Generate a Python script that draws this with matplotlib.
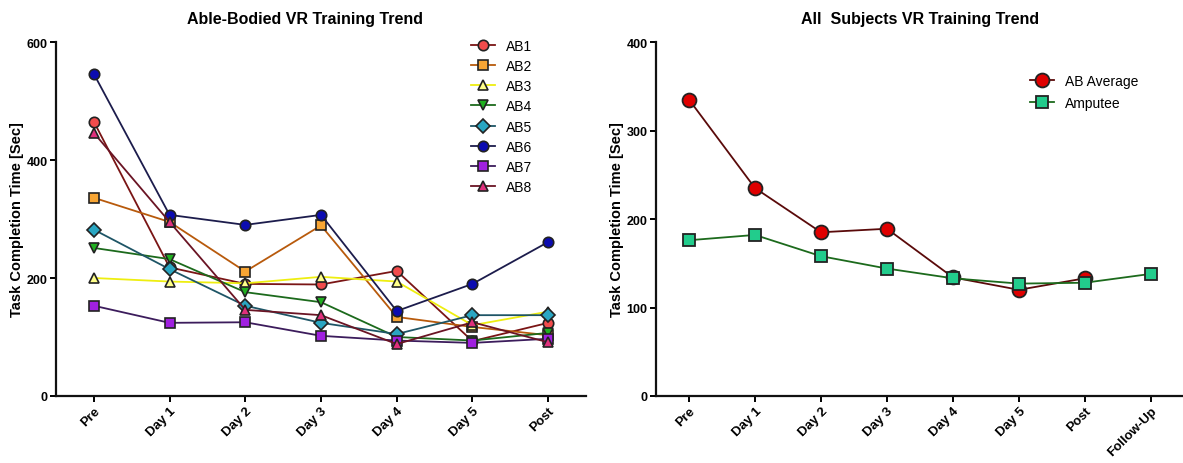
import matplotlib
matplotlib.use("Agg")
import matplotlib.pyplot as plt

plt.rcParams['font.family'] = ['Liberation Sans', 'DejaVu Sans']

days_ab = ["Pre", "Day 1", "Day 2", "Day 3", "Day 4", "Day 5", "Post"]
days_all = ["Pre", "Day 1", "Day 2", "Day 3", "Day 4", "Day 5", "Post", "Follow-Up"]

ab1 = [465, 218, 190, 189, 212, 93, 124]
ab2 = [336, 295, 211, 289, 134, 117, 103]
ab3 = [200, 194, 191, 202, 194, 120, 143]
ab4 = [251, 232, 176, 159, 100, 94, 107]
ab5 = [282, 215, 153, 124, 105, 137, 137]
ab6 = [546, 307, 290, 307, 144, 190, 261]
ab7 = [153, 124, 125, 102, 94, 90, 97]
ab8 = [446, 295, 146, 137, 88, 125, 91]

ab_average = [335, 235, 185, 189, 134, 120, 133]
amputee = [176, 182, 158, 144, 133, 127, 128, 138]

subjects = [
    ("AB1", ab1, "o", "#f24c4c", "#7a1515"),
    ("AB2", ab2, "s", "#f7a534", "#b85a0c"),
    ("AB3", ab3, "^", "#ffff8a", "#eeee10"),
    ("AB4", ab4, "v", "#20b020", "#1c6a1c"),
    ("AB5", ab5, "D", "#2aa6c2", "#1e5566"),
    ("AB6", ab6, "o", "#0c0cb0", "#1c1c4c"),
    ("AB7", ab7, "s", "#a020e0", "#3c1c5c"),
    ("AB8", ab8, "^", "#e0307c", "#6a1424"),
]

fig = plt.figure(figsize=(11.83, 4.64), dpi=100)
ax1 = fig.add_axes([0.0473, 0.1444, 0.4481, 0.7629])
ax2 = fig.add_axes([0.5545, 0.1444, 0.4463, 0.7629])

for name, vals, mk, face, line in subjects:
    ms = 7 if mk == "D" else 7.5
    ax1.plot(range(len(vals)), vals, color=line, lw=1.3, marker=mk, ms=ms,
             mfc=face, mec="#222222", mew=1.2, label=name)

ax2.plot(range(len(ab_average)), ab_average, color="#5a0a0a", lw=1.3, marker="o", ms=10,
         mfc="#e00000", mec="#222222", mew=1.3, label="AB Average")
ax2.plot(range(len(amputee)), amputee, color="#1c6a1c", lw=1.3, marker="s", ms=9,
         mfc="#22cc8c", mec="#222222", mew=1.3, label="Amputee")

for ax, labels, ymax, step in [(ax1, days_ab, 600, 200), (ax2, days_all, 400, 100)]:
    ax.set_xlim(-0.5, len(labels) - 0.5)
    ax.set_ylim(0, ymax)
    ax.set_yticks(range(0, ymax + 1, step))
    ax.set_xticks(range(len(labels)))
    ax.set_xticklabels(labels, rotation=45, ha="right", rotation_mode="anchor",
                       fontsize=9.5, fontweight="bold")
    for t in ax.get_yticklabels():
        t.set_fontweight("bold")
        t.set_fontsize(9)
    for s in ["top", "right"]:
        ax.spines[s].set_visible(False)
    for s in ["left", "bottom"]:
        ax.spines[s].set_linewidth(1.6)
        ax.spines[s].set_color("#111111")
    ax.tick_params(axis="both", direction="out", length=4, width=1.4, pad=2)
    ax.set_ylabel("Task Completion Time [Sec]", fontsize=10.5, fontweight="bold", labelpad=2)

ax1.set_title("Able-Bodied VR Training Trend", fontsize=11.5, fontweight="bold", pad=14, x=0.47)
ax2.set_title("All  Subjects VR Training Trend", fontsize=11.5, fontweight="bold", pad=14)

ax1.legend(loc="upper left", bbox_to_anchor=(0.76, 1.045), frameon=False, fontsize=10,
           handlelength=1.7, labelspacing=0.45, handletextpad=0.8)
ax2.legend(loc="upper left", bbox_to_anchor=(0.685, 0.945), frameon=False, fontsize=10,
           handlelength=1.7, labelspacing=0.55, handletextpad=0.8)

fig.savefig("out.png", dpi=100)
